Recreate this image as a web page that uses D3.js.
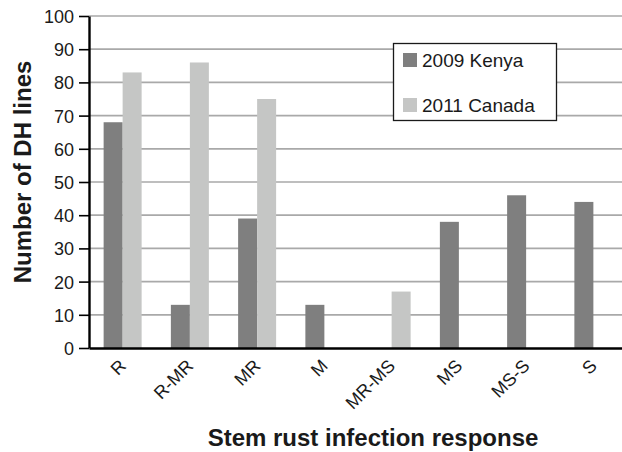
<!DOCTYPE html>
<html>
<head>
    <meta charset="utf-8">
    <style>
        body { margin: 0; background: #fff; }
        svg { display: block; font-family: "Liberation Sans", Arial, sans-serif; }
    </style>
</head>
<body>
<svg width="622" height="452"></svg>
<script src="https://d3js.org/d3.v7.min.js"></script>
<script>
    // data
    let categories = ["R", "R-MR", "MR", "M", "MR-MS", "MS", "MS-S", "S"]
    let seriesNames = ["2009 Kenya", "2011 Canada"]
    let kenya = [68, 13, 39, 13, 0, 38, 46, 44]
    let canada = [83, 86, 75, 0, 17, 0, 0, 0]
    let yTicks = [0, 10, 20, 30, 40, 50, 60, 70, 80, 90, 100]
    let colors = ["#7f7f7f", "#c5c6c5"]

    let svg = d3.select("svg")

    let plotLeft = 89, plotRight = 627, plotTop = 16, plotBottom = 348

    let x = d3.scaleBand()
        .domain(categories)
        .range([plotLeft, plotRight])

    let inner = d3.scaleBand()
        .domain(seriesNames)
        .range([x.bandwidth() / 2 - 19, x.bandwidth() / 2 + 19])

    let y = d3.scaleLinear()
        .domain([0, 100])
        .range([plotBottom, plotTop])

    // grid lines
    svg.append("g")
        .selectAll("line")
        .data(yTicks.slice(1))
        .join("line")
        .attr("x1", plotLeft)
        .attr("x2", plotRight)
        .attr("y1", d => y(d))
        .attr("y2", d => y(d))
        .style("stroke", "#a9a9a9")
        .style("stroke-width", 1.7)

    // bars
    let rows = categories.map((c, i) => ({ cat: c, vals: [kenya[i], canada[i]] }))

    svg.append("g")
        .selectAll("g")
        .data(rows)
        .join("g")
        .attr("transform", d => `translate(${x(d.cat)},0)`)
        .selectAll("rect")
        .data(d => d.vals.map((v, j) => ({ name: seriesNames[j], v: v, j: j })))
        .join("rect")
        .attr("x", d => inner(d.name))
        .attr("width", inner.bandwidth())
        .attr("y", d => y(d.v))
        .attr("height", d => y(0) - y(d.v))
        .style("fill", d => colors[d.j])

    // y axis
    let yAxis = svg.append("g")
        .attr("transform", `translate(${plotLeft},0)`)
        .call(d3.axisLeft(y).tickValues(yTicks).tickSize(10).tickPadding(5).tickSizeOuter(0))

    yAxis.select(".domain").style("stroke", "#000").style("stroke-width", 2.4)
    yAxis.selectAll(".tick line").style("stroke", "#000").style("stroke-width", 1.6)
    yAxis.selectAll(".tick text")
        .style("font-size", "18px")
        .style("fill", "#1a1a1a")
        .attr("dy", "0.36em")

    // x axis with category labels turned -45 degrees
    let xAxis = svg.append("g")
        .attr("transform", `translate(0,${plotBottom})`)
        .call(d3.axisBottom(x).tickSize(0).tickSizeOuter(0))

    xAxis.select(".domain").style("stroke", "#000").style("stroke-width", 2.4)
    xAxis.selectAll(".tick text")
        .style("font-size", "18px")
        .style("fill", "#1a1a1a")
        .attr("text-anchor", "end")
        .attr("y", 0)
        .attr("dy", 0)
        .attr("transform", "translate(4.5,19) rotate(-45)")

    // axis titles
    svg.append("text")
        .attr("transform", "translate(31,172) rotate(-90)")
        .attr("text-anchor", "middle")
        .style("font-size", "24px")
        .style("font-weight", "bold")
        .style("fill", "#1a1a1a")
        .text("Number of DH lines")

    svg.append("text")
        .attr("x", 373)
        .attr("y", 446)
        .attr("text-anchor", "middle")
        .style("font-size", "24px")
        .style("font-weight", "bold")
        .style("fill", "#1a1a1a")
        .text("Stem rust infection response")

    // legend
    let legend = svg.append("g")
    legend.append("rect")
        .attr("x", 393.5)
        .attr("y", 43.5)
        .attr("width", 163)
        .attr("height", 77)
        .style("fill", "#fff")
        .style("stroke", "#1a1a1a")
        .style("stroke-width", 1.3)

    let items = legend.selectAll(".item")
        .data(seriesNames)
        .join("g")
        .attr("transform", (d, i) => `translate(403,${53 + i * 45})`)

    items.append("rect")
        .attr("width", 14)
        .attr("height", 14)
        .style("fill", (d, i) => colors[i])

    items.append("text")
        .attr("x", 19)
        .attr("y", 13.5)
        .style("font-size", "19px")
        .style("fill", "#1a1a1a")
        .text(d => d)
</script>
</body>
</html>
